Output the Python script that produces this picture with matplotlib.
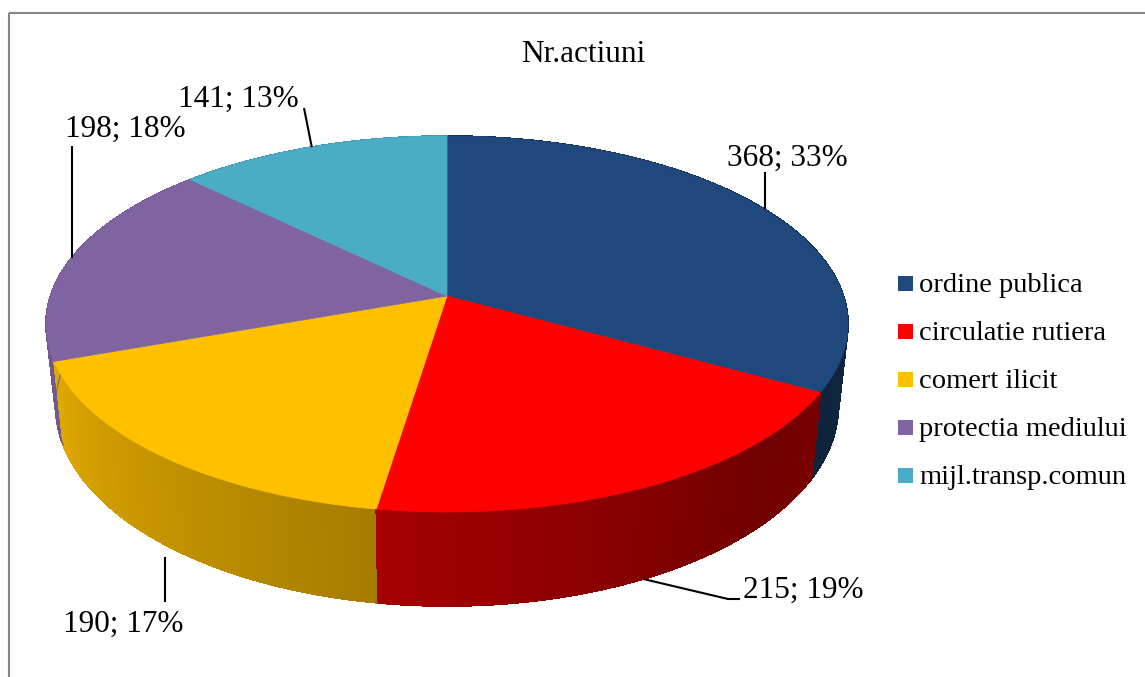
import numpy as np
import matplotlib.pyplot as plt
from matplotlib.patches import Polygon, Rectangle
from matplotlib.collections import PolyCollection, LineCollection
from matplotlib.colors import to_rgb

categories = ['ordine publica', 'circulatie rutiera', 'comert ilicit',
              'protectia mediului', 'mijl.transp.comun']
values = [368, 215, 190, 198, 141]
colors = ['#1F497D', '#FF0000', '#FFC000', '#8064A2', '#4BACC6']
title = 'Nr.actiuni'

plt.rcParams['font.family'] = ['Liberation Serif', 'DejaVu Serif']

fig = plt.figure(figsize=(11.45, 6.77), dpi=100)
ax = fig.add_axes([0, 0, 1, 1])
ax.set_xlim(0, 1145)
ax.set_ylim(677, 0)
ax.axis('off')

# gray chart border (right/bottom edges run off the image)
ax.add_patch(Rectangle((8.5, 12.5), 1300, 800, fill=False, edgecolor='#868686', lw=1.5))

# perspective view of the pie disk (pixel space)
cx, cy = 447, 296
rx, a, e = 396.5, -139.7, 0.149
depth, shrink = 80, 0.976

def top(th):
    u, v = np.cos(th), np.sin(th)
    w = 1 + e * v
    return cx + rx * u / w, (cy + a * v) / w

def bottom(th):
    u, v = np.cos(th), np.sin(th)
    w = 1 + e * v
    return cx + shrink * rx * u / w, (cy + a * v + depth) / w

def shade(deg):
    if deg < -45:
        f = 0.88 - (deg + 160) * 0.0038
    else:
        f = 0.443 + (deg + 45) * 0.002
    return min(max(f, 0.4), 0.88)

total = sum(values)
spans = [v / total * 360 for v in values]
starts = 90 - np.concatenate([[0], np.cumsum(spans)[:-1]])
ends = starts - np.array(spans)

# side walls first
quads, qcols, depths, edges = [], [], [], []
for s, en, c in zip(starts, ends, colors):
    n = max(int((s - en) / 0.5), 2)
    angs = np.linspace(s, en, n + 1)
    base = np.array(to_rgb(c))
    for t0, t1 in zip(angs[:-1], angs[1:]):
        r0, r1 = np.radians(t0), np.radians(t1)
        x0, y0 = top(r0); x1, y1 = top(r1)
        bx0, by0 = bottom(r0); bx1, by1 = bottom(r1)
        quads.append([(x0, y0), (x1, y1), (bx1, by1), (bx0, by0)])
        qcols.append(tuple(base * shade((t0 + t1) / 2)))
        depths.append(np.sin(np.radians((t0 + t1) / 2)))
        edges.append([(bx0, by0), (bx1, by1)])
order = np.argsort(depths)[::-1]
ax.add_collection(PolyCollection([quads[i] for i in order],
                                 facecolors=[qcols[i] for i in order],
                                 edgecolors=[qcols[i] for i in order],
                                 linewidths=0.6, antialiased=False, zorder=1))
# smooth outer outline of the walls
front = [i for i in order if depths[i] < 0.2]
ax.add_collection(LineCollection([edges[i] for i in front],
                                 colors=[qcols[i] for i in front],
                                 linewidths=0.8, zorder=1))

# top faces
for s, en, c in zip(starts, ends, colors):
    angs = np.radians(np.linspace(s, en, 200))
    xs, ys = top(angs)
    pts = [(cx, cy)] + list(zip(xs, ys))
    ax.add_patch(Polygon(pts, closed=True, facecolor=c, edgecolor=c, lw=0.5, zorder=2))

ax.text(583, 62, title, ha='center', va='baseline', fontsize=22.5)

# data labels with leader lines
label_pos = [(727, 166), (743, 598), (63, 632), (65, 137), (178, 107)]
leader_pts = [[(None, 172)], [(728, 599), (740, 599)], [(None, 602)],
              [(None, 146)], [(304, 108)]]
on_bottom = [False, True, True, False, False]
for i, v in enumerate(values):
    mid = np.radians((starts[i] + ends[i]) / 2)
    axp, ayp = bottom(mid) if on_bottom[i] else top(mid)
    if on_bottom[i] and leader_pts[i][0][0] is None:
        axp = 165
        ayp = bottom(mid)[1] + 10
    pts = [(axp, ayp)] + [(axp if px is None else px, py) for px, py in leader_pts[i]]
    xs, ys = zip(*pts)
    ax.plot(xs, ys, color='black', lw=1.5, solid_capstyle='butt', zorder=3)
    pct = round(100 * v / total)
    ax.text(label_pos[i][0], label_pos[i][1], f'{v}; {pct}%',
            ha='left', va='baseline', fontsize=22.5)

# legend
for i, (name, c) in enumerate(zip(categories, colors)):
    yc = 283 + 48 * i
    ax.add_patch(Rectangle((898, yc - 7.5), 15, 15, facecolor=c, edgecolor='none'))
    ax.text(919, yc + 9, name, ha='left', va='baseline', fontsize=20.5)

fig.savefig('out.png', dpi=100)
